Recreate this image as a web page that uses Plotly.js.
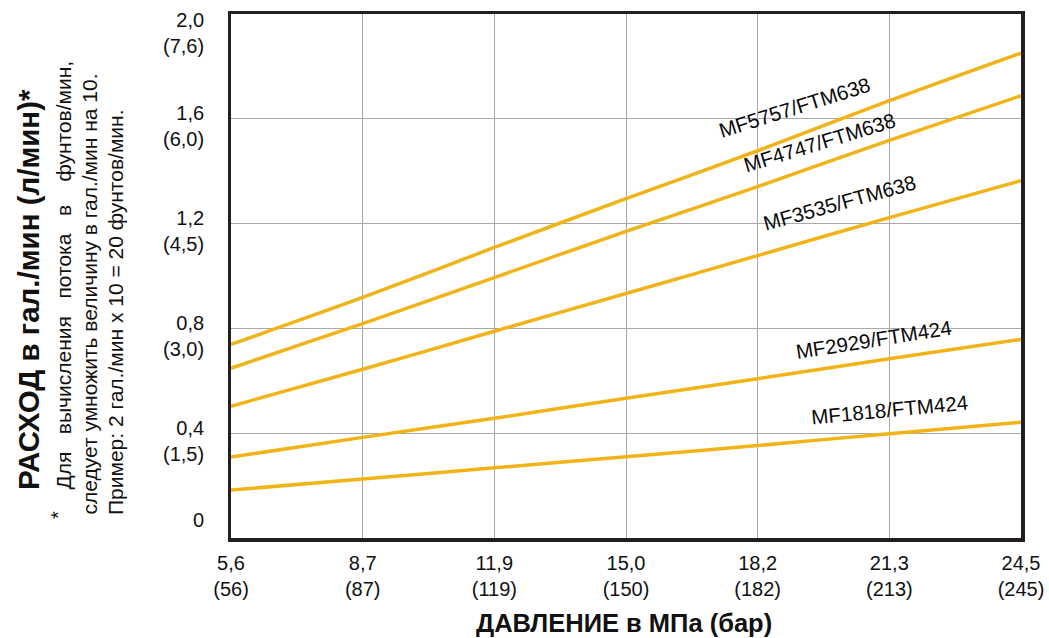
<!DOCTYPE html>
<html>
<head>
<meta charset="utf-8">
<script src="https://cdn.plot.ly/plotly-3.0.1.min.js"></script>
<style>
  html, body { margin: 0; padding: 0; background: #ffffff; }
  #chart { width: 1049px; height: 638px; }
</style>
</head>
<body>
<div id="chart"></div>
<script>
// Pressure categories (MPa (bar))
const pressureLabels = ['5,6<br>(56)', '8,7<br>(87)', '11,9<br>(119)', '15,0<br>(150)', '18,2<br>(182)', '21,3<br>(213)', '24,5<br>(245)'];

// Flow values in gal/min read at each pressure
const mf5757 = [0.739, 0.918, 1.109, 1.295, 1.478, 1.669, 1.851];
const mf4747 = [0.648, 0.818, 0.994, 1.170, 1.341, 1.518, 1.688];
const mf3535 = [0.503, 0.644, 0.789, 0.933, 1.078, 1.223, 1.364];
const mf2929 = [0.309, 0.384, 0.457, 0.533, 0.608, 0.684, 0.758];
const mf1818 = [0.183, 0.225, 0.268, 0.310, 0.353, 0.398, 0.442];

const seriesNames = ['MF5757/FTM638', 'MF4747/FTM638', 'MF3535/FTM638', 'MF2929/FTM424', 'MF1818/FTM424'];
const seriesValues = [mf5757, mf4747, mf3535, mf2929, mf1818];

// Y axis ticks (gal/min (l/min))
const yTickVals = [0, 0.4, 0.8, 1.2, 1.6, 2.0];
const yTickText = ['0', '0,4<br>(1,5)', '0,8<br>(3,0)', '1,2<br>(4,5)', '1,6<br>(6,0)', '2,0<br>(7,6)'];

const xTitle = 'ДАВЛЕНИЕ в МПа (бар)';
const yTitle = 'РАСХОД в гал./мин (л/мин)*';
const noteLines = [
  'Для\u00A0\u00A0\u00A0вычисления\u00A0\u00A0\u00A0потока\u00A0\u00A0\u00A0в\u00A0\u00A0\u00A0\u00A0фунтов/мин,',
  'следует умножить величину в гал./мин на 10.',
  'Пример: 2 гал./мин х 10 = 20 фунтов/мин.'
];

const FONT = 'Liberation Sans, Arial, Helvetica, sans-serif';
const LINE_COLOR = '#F0B419';

const traces = seriesValues.map((vals, i) => ({
  type: 'scatter',
  mode: 'lines',
  name: seriesNames[i],
  x: pressureLabels,
  y: vals,
  line: { color: LINE_COLOR, width: 3.5, shape: 'spline', smoothing: 0.8 },
  hoverinfo: 'x+y+name'
}));

// label placement (in axis units) and rotation
const labelPos = [
  { x: 4.276, y: 1.642, a: -17.5 },
  { x: 4.466, y: 1.509, a: -17 },
  { x: 4.625, y: 1.280, a: -15.5 },
  { x: 4.876, y: 0.758, a: -9 },
  { x: 5.005, y: 0.491, a: -5.5 }
];

const annotations = [];
seriesNames.forEach((n, i) => {
  annotations.push({
    xref: 'x', yref: 'y', x: labelPos[i].x, y: labelPos[i].y,
    text: n, showarrow: false, textangle: labelPos[i].a,
    xanchor: 'center', yanchor: 'middle',
    font: { family: FONT, size: 20.5, color: '#0a0a0a' }
  });
});

// y tick labels
yTickVals.forEach((v, i) => {
  let shift = -7.5;
  if (i === 0) shift = 18;
  if (i === yTickVals.length - 1) shift = -18.5;
  annotations.push({
    xref: 'paper', yref: 'y', x: 0, y: v, xanchor: 'right', yanchor: 'middle',
    xshift: -25, yshift: shift, align: 'right', showarrow: false,
    text: yTickText[i],
    font: { family: FONT, size: 20, color: '#111' }
  });
});

// axis titles
annotations.push({
  xref: 'paper', yref: 'paper', x: (624 - 231) / 790, y: (538 - 623) / 524,
  xanchor: 'center', yanchor: 'middle', showarrow: false,
  text: '<b>' + xTitle + '</b>',
  font: { family: FONT, size: 25.5, color: '#111' }
});
annotations.push({
  xref: 'paper', yref: 'paper', x: (28 - 231) / 790, y: (538 - 290) / 524,
  xanchor: 'center', yanchor: 'middle', showarrow: false, textangle: -90,
  text: '<b>' + yTitle + '</b>',
  font: { family: FONT, size: 29.5, color: '#111' }
});

// footnote
const noteX = [63, 89, 115];
const noteBottom = [492, 517, 517];
noteLines.forEach((t, i) => {
  annotations.push({
    xref: 'paper', yref: 'paper', x: (noteX[i] - 231) / 790, y: (538 - noteBottom[i]) / 524,
    xanchor: 'center', yanchor: 'bottom', showarrow: false, textangle: -90,
    text: t,
    font: { family: FONT, size: 21, color: '#111' }
  });
});
annotations.push({
  xref: 'paper', yref: 'paper', x: (58 - 231) / 790, y: (538 - 515) / 524,
  xanchor: 'center', yanchor: 'middle', showarrow: false, textangle: -90,
  text: '*',
  font: { family: FONT, size: 20, color: '#111' }
});

const layout = {
  width: 1049, height: 638,
  margin: { l: 231, r: 28, t: 14, b: 100 },
  paper_bgcolor: '#ffffff', plot_bgcolor: '#ffffff',
  showlegend: false,
  font: { family: FONT, size: 20, color: '#111' },
  xaxis: {
    type: 'category',
    range: [0, 6],
    showgrid: true, gridcolor: '#a9a9a9', gridwidth: 1,
    showline: true, linecolor: '#231f20', linewidth: 3.5, mirror: true,
    ticks: '', zeroline: false,
    tickfont: { family: FONT, size: 20, color: '#111' },
    ticklabelstandoff: 4,
    fixedrange: true
  },
  yaxis: {
    range: [0, 2.0],
    tickvals: yTickVals,
    showticklabels: false,
    showgrid: true, gridcolor: '#a9a9a9', gridwidth: 1,
    showline: true, linecolor: '#231f20', linewidth: 3.5, mirror: true,
    ticks: '', zeroline: false,
    fixedrange: true
  },
  annotations: annotations
};

Plotly.newPlot('chart', traces, layout, { displayModeBar: false, staticPlot: true });
</script>
</body>
</html>
